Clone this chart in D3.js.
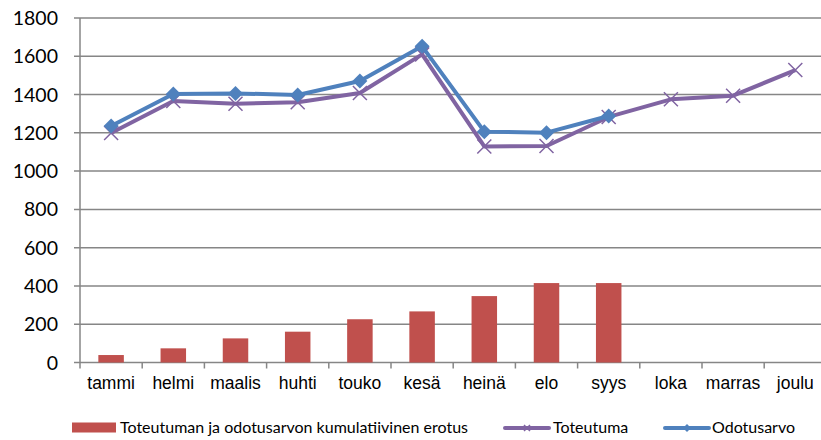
<!DOCTYPE html>
<html>
<head>
<meta charset="utf-8">
<script src="https://cdn.jsdelivr.net/npm/d3@7"></script>
<style>
  body { margin: 0; background: #fff; }
  svg { display: block; }
</style>
</head>
<body>
<svg id="chart" width="821" height="440"></svg>
<script>
// months on the x axis
const months = ["tammi", "helmi", "maalis", "huhti", "touko", "kesä", "heinä", "elo", "syys", "loka", "marras", "joulu"];
// cumulative difference (bars)
const erotus = [39, 74, 126, 161, 226, 267, 347, 415, 415, null, null, null];
// actual values
const toteutuma = [1199, 1366, 1352, 1360, 1408, 1610, 1129, 1131, 1283, 1375, 1394, 1528];
// expected values
const odotusarvo = [1236, 1403, 1406, 1398, 1471, 1652, 1206, 1201, 1288, null, null, null];
const yTicks = [0, 200, 400, 600, 800, 1000, 1200, 1400, 1600, 1800];

const svg = d3.select("#chart");
const plotL = 80, plotR = 826.4, plotT = 18, plotB = 362.5;
const grey = "#868686";
const labelFont = "Lato, 'Open Sans', sans-serif";

const x = d3.scaleBand().domain(months).range([plotL, plotR]);
const y = d3.scaleLinear().domain([0, 1800]).range([plotB, plotT]);

// gridlines + y ticks
svg.append("g")
  .selectAll("line")
  .data(yTicks)
  .join("line")
  .attr("x1", plotL - 6)
  .attr("x2", plotR)
  .attr("y1", d => y(d))
  .attr("y2", d => y(d))
  .attr("stroke", grey)
  .attr("stroke-width", 1.5);

svg.append("g")
  .attr("font-family", labelFont)
  .attr("font-size", "19.5px")
  .attr("fill", "#000")
  .attr("text-anchor", "end")
  .selectAll("text")
  .data(yTicks)
  .join("text")
  .attr("x", 58)
  .attr("y", d => y(d) + 7)
  .text(d => d);

// y axis line
svg.append("line")
  .attr("x1", plotL).attr("x2", plotL)
  .attr("y1", plotT).attr("y2", plotB)
  .attr("stroke", grey).attr("stroke-width", 1.5);

// x axis ticks between categories
svg.append("g")
  .selectAll("line")
  .data(months)
  .join("line")
  .attr("x1", d => x(d))
  .attr("x2", d => x(d))
  .attr("y1", plotB)
  .attr("y2", plotB + 6)
  .attr("stroke", grey)
  .attr("stroke-width", 1.5);

svg.append("g")
  .attr("font-family", "'Liberation Sans', Arial, sans-serif")
  .attr("font-size", "17.5px")
  .attr("text-anchor", "middle")
  .selectAll("text")
  .data(months)
  .join("text")
  .attr("x", d => x(d) + x.bandwidth() / 2)
  .attr("y", 389)
  .text(d => d);

// bars
const barW = x.bandwidth() * 0.41;
svg.append("g")
  .attr("fill", "#C0504D")
  .selectAll("rect")
  .data(months.map((m, i) => ({ m, v: erotus[i] })).filter(d => d.v != null))
  .join("rect")
  .attr("x", d => x(d.m) + (x.bandwidth() - barW) / 2)
  .attr("y", d => y(d.v))
  .attr("width", barW)
  .attr("height", d => y(0) - y(d.v));

const cx = m => x(m) + x.bandwidth() / 2;
const line = d3.line()
  .defined(d => d.v != null)
  .x(d => cx(d.m))
  .y(d => y(d.v));

// Toteutuma (purple, x markers)
const totData = months.map((m, i) => ({ m, v: toteutuma[i] }));
svg.append("path")
  .datum(totData)
  .attr("d", line)
  .attr("fill", "none")
  .attr("stroke", "#8064A2")
  .attr("stroke-width", 4)
  .attr("stroke-linejoin", "round");
svg.append("g")
  .attr("stroke", "#8064A2")
  .attr("stroke-width", 1.5)
  .selectAll("path")
  .data(totData.filter(d => d.v != null))
  .join("path")
  .attr("d", d => {
    const px = cx(d.m), py = y(d.v), s = 7;
    return `M${px - s},${py - s}L${px + s},${py + s}M${px - s},${py + s}L${px + s},${py - s}`;
  });

// Odotusarvo (blue, diamond markers)
const odData = months.map((m, i) => ({ m, v: odotusarvo[i] }));
svg.append("path")
  .datum(odData)
  .attr("d", line)
  .attr("fill", "none")
  .attr("stroke", "#4F81BD")
  .attr("stroke-width", 4)
  .attr("stroke-linejoin", "round");
svg.append("g")
  .attr("fill", "#4F81BD")
  .selectAll("path")
  .data(odData.filter(d => d.v != null))
  .join("path")
  .attr("d", d => {
    const px = cx(d.m), py = y(d.v), s = 7.5;
    return `M${px},${py - s}L${px + s},${py}L${px},${py + s}L${px - s},${py}Z`;
  });

// legend
const legend = svg.append("g")
  .attr("font-family", labelFont)
  .attr("font-size", "16px");

legend.append("rect")
  .attr("x", 72).attr("y", 422.5)
  .attr("width", 44).attr("height", 10)
  .attr("fill", "#C0504D");
legend.append("text").attr("x", 120).attr("y", 433)
  .text("Toteutuman ja odotusarvon kumulatiivinen erotus");

legend.append("line")
  .attr("x1", 505).attr("x2", 549).attr("y1", 428).attr("y2", 428)
  .attr("stroke", "#8064A2").attr("stroke-width", 4).attr("stroke-linecap", "round");
legend.append("path")
  .attr("d", "M524,425L530,431M524,431L530,425")
  .attr("stroke", "#8064A2").attr("stroke-width", 1.5);
legend.append("text").attr("x", 553).attr("y", 433).text("Toteutuma");

legend.append("line")
  .attr("x1", 665).attr("x2", 709).attr("y1", 428).attr("y2", 428)
  .attr("stroke", "#4F81BD").attr("stroke-width", 4).attr("stroke-linecap", "round");
legend.append("path")
  .attr("d", "M687,424L691,428L687,432L683,428Z")
  .attr("fill", "#4F81BD");
legend.append("text").attr("x", 712).attr("y", 433).text("Odotusarvo");
</script>
</body>
</html>
